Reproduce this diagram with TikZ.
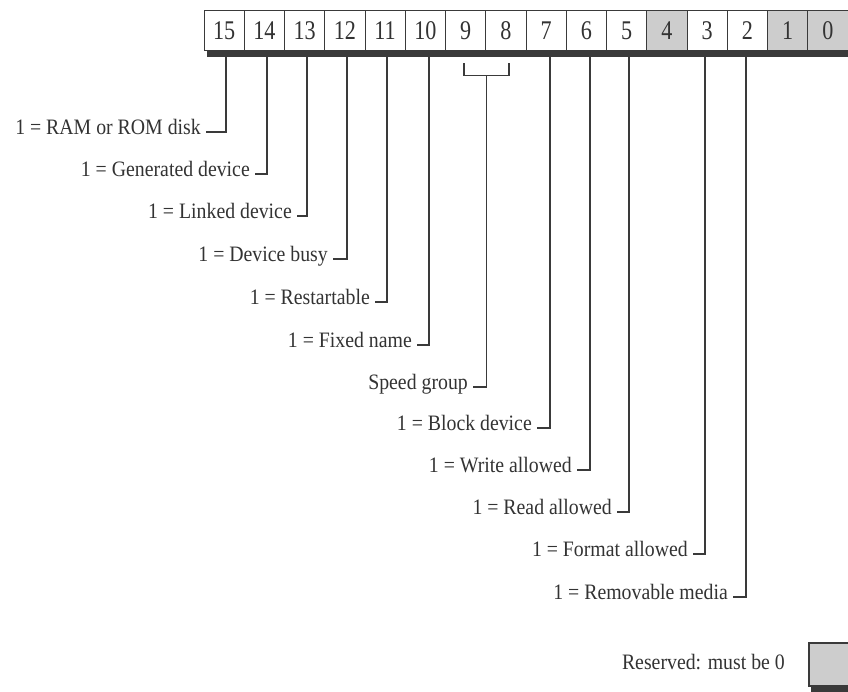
\documentclass[tikz,border=0pt]{standalone}
\usepackage{fontspec}
\setmainfont{Liberation Serif}
\newfontfamily\digitfont[FakeStretch=0.82]{Liberation Serif}
\newfontfamily\labelfont[FakeStretch=0.9]{Liberation Serif}
\usetikzlibrary{calc}
\definecolor{ink}{HTML}{3A3A3A}
\definecolor{txt}{HTML}{333333}
\definecolor{shade}{HTML}{CDCDCD}
\tikzset{
  cell/.style={draw=ink, line width=1pt, minimum width=40.25pt, minimum height=40pt,
    inner sep=0pt, font=\digitfont\fontsize{27}{27}\selectfont, text=txt},
  grayc/.style={cell, fill=shade},
  lbl/.style={anchor=east, inner xsep=5pt, inner ysep=0pt, text=txt,
    font=\labelfont\fontsize{22}{22}\selectfont, text height=0.66em, text depth=0.1em},
  conn/.style={draw=ink, line width=1.4pt}
}
\begin{document}
\begin{tikzpicture}[x=1pt,y=-1pt]
\path[use as bounding box, fill=white] (0,0) rectangle (848,692);
% register cells
\foreach \k in {15,...,0}{
  \pgfmathsetmacro\cx{204+40.25*(15-\k)+20.125}
  \node[cell] (b\k) at (\cx,31) {\k};
}
\foreach \k in {4,1,0}{
  \pgfmathsetmacro\cx{204+40.25*(15-\k)+20.125}
  \node[grayc] at (\cx,31) {\k};
}
% thick shadow bar under register
\fill[ink] (207,51) rectangle (848,57);
% labels
\node[lbl] (l15) at (206,132) {1 = RAM or ROM disk};
\node[lbl] (l14) at (255,174) {1 = Generated device};
\node[lbl] (l13) at (297,216) {1 = Linked device};
\node[lbl] (l12) at (333,259) {1 = Device busy};
\node[lbl] (l11) at (375,302) {1 = Restartable};
\node[lbl] (l10) at (417,345) {1 = Fixed name};
\node[lbl] (l98) at (473,387) {Speed group};
\node[lbl] (l7)  at (537,428) {1 = Block device};
\node[lbl] (l6)  at (577,470) {1 = Write allowed};
\node[lbl] (l5)  at (617,512) {1 = Read allowed};
\node[lbl] (l3)  at (693,554) {1 = Format allowed};
\node[lbl] (l2)  at (733,597) {1 = Removable media};
% connectors
\draw[conn] ([xshift=2pt]b15.south) |- (l15.east);
\draw[conn] ([xshift=2.6pt]b14.south) |- (l14.east);
\draw[conn] ([xshift=2.4pt]b13.south) |- (l13.east);
\draw[conn] ([xshift=2.1pt]b12.south) |- (l12.east);
\draw[conn] ([xshift=2pt]b11.south) |- (l11.east);
\draw[conn] ([xshift=3.6pt]b10.south) |- (l10.east);
\draw[conn] ([xshift=3.9pt]b7.south) |- (l7.east);
\draw[conn] ([xshift=3.6pt]b6.south) |- (l6.east);
\draw[conn] ([xshift=2.4pt]b5.south) |- (l5.east);
\draw[conn] ([xshift=-2.1pt]b3.south) |- (l3.east);
\draw[conn] ([xshift=-1.4pt]b2.south) |- (l2.east);
% speed group bracket
\coordinate (brL) at ([xshift=-1.6pt,yshift=-12pt]b9.south);
\coordinate (brR) at ([xshift=3pt,yshift=-12pt]b8.south);
\coordinate (brM) at ($(brL)!0.5!(brR)$);
\draw[conn] (brL) -- ++(0,12) -| (brR);
\draw[conn] ([yshift=-12pt]brM) |- (l98.east);
% legend
\node[draw=ink, line width=1.3pt, fill=shade, minimum width=40pt, minimum height=43pt, inner sep=0pt] (res) at (829,664.5) {};
\fill[ink] (811,686) rectangle (848,692);
\node[lbl] (rlbl) at (790,667) {Reserved: must be 0};
\end{tikzpicture}
\end{document}
